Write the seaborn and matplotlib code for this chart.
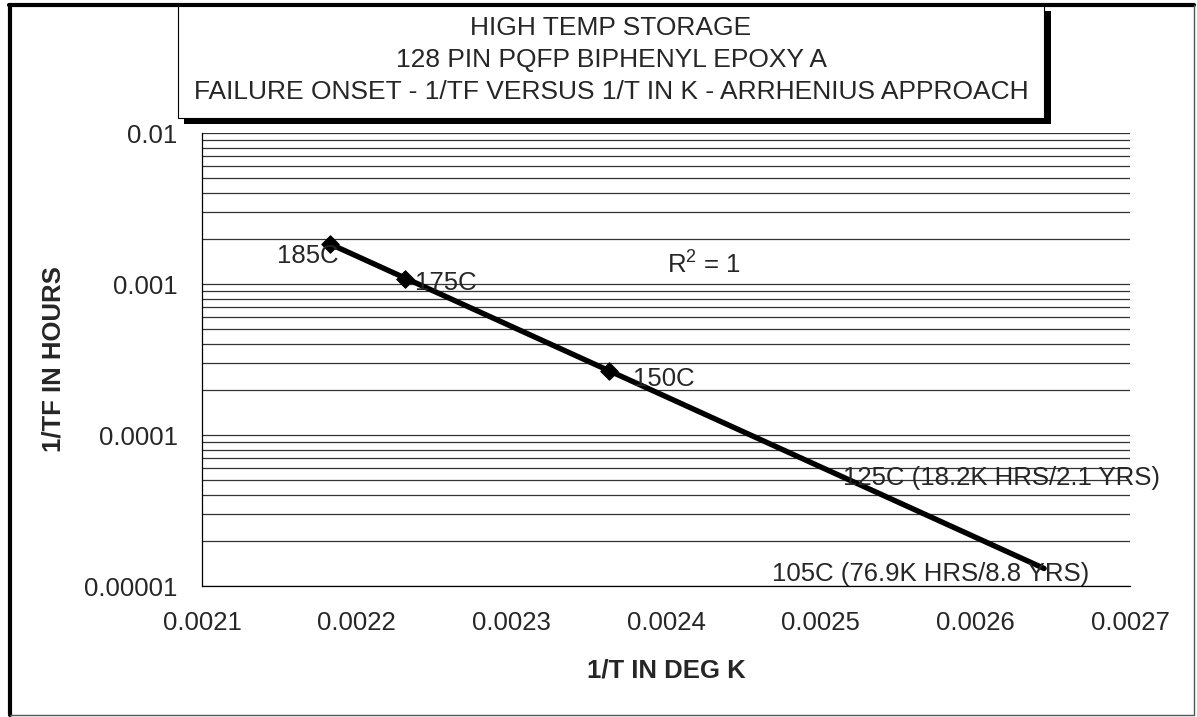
import numpy as np
import pandas as pd
import matplotlib
matplotlib.use('Agg')
import matplotlib.pyplot as plt
from matplotlib.patches import Rectangle
from matplotlib.lines import Line2D
import seaborn as sns

# data
temps_c = [185, 175, 150]
tf_hours = [540, 920, 3750]
label_texts = ['185C', '175C', '150C']
extrap_temps_c = [125, 105]
extrap_labels = ['125C (18.2K HRS/2.1 YRS)', '105C (76.9K HRS/8.8 YRS)']
title_lines = ['HIGH TEMP STORAGE', '128 PIN PQFP BIPHENYL EPOXY A',
               'FAILURE ONSET - 1/TF VERSUS 1/T IN K - ARRHENIUS APPROACH']
x_ticks = [0.0021, 0.0022, 0.0023, 0.0024, 0.0025, 0.0026, 0.0027]
x_ticklabels = ['0.0021', '0.0022', '0.0023', '0.0024', '0.0025', '0.0026', '0.0027']
y_ticks = [0.00001, 0.0001, 0.001, 0.01]
y_ticklabels = ['0.00001', '0.0001', '0.001', '0.01']

W, H = 1197, 717

def fx(px):
    return px / W

def fy(py):
    return 1 - py / H

def pt(px):
    return px * 0.72

sns.set_style('white')
plt.rcParams['font.family'] = ['Liberation Sans', 'DejaVu Sans']
plt.rcParams['mathtext.fontset'] = 'custom'
plt.rcParams['mathtext.rm'] = 'Liberation Sans'
plt.rcParams['mathtext.it'] = 'Liberation Sans'

df = pd.DataFrame({'T': temps_c, 'tf': tf_hours})
df['inv_t'] = 1.0 / (df['T'] + 273.15)
df['inv_tf'] = 1.0 / df['tf']

# exponential (Arrhenius) trendline fitted in log space, extended to 105C
slope, icpt = np.polyfit(df['inv_t'], np.log10(df['inv_tf']), 1)
trend_x = np.array([df['inv_t'].min(), 1.0 / (min(extrap_temps_c) + 273.15)])
trend = pd.DataFrame({'x': trend_x, 'y': 10 ** (slope * trend_x + icpt)})

fig = plt.figure(figsize=(W / 100, H / 100), dpi=100)
ax = fig.add_axes([fx(202), fy(586), fx(1130) - fx(202), fy(133) - fy(586)])

sns.lineplot(data=trend, x='x', y='y', ax=ax, color='black', lw=3.9,
             solid_capstyle='round', zorder=3)
sns.scatterplot(data=df, x='inv_t', y='inv_tf', ax=ax, marker='D', s=80,
                color='black', edgecolor='black', zorder=4)

ax.set_yscale('log')
ax.set_xlim(0.0021, 0.0027)
ax.set_ylim(0.00001, 0.01)
ax.set_xticks(x_ticks)
ax.set_xticklabels(x_ticklabels)
ax.set_yticks(y_ticks)
ax.set_yticklabels(y_ticklabels)
ax.yaxis.set_minor_locator(matplotlib.ticker.LogLocator(base=10, subs=np.arange(2, 10)))
ax.yaxis.set_minor_formatter(matplotlib.ticker.NullFormatter())
ax.tick_params(axis='x', direction='inout', length=11.5, width=0.8, color='black',
               labelsize=18.5, pad=12)
ax.tick_params(axis='y', which='major', direction='out', length=6.5, width=0.8,
               color='black', labelsize=18.5, pad=11)
ax.tick_params(axis='y', which='minor', length=0)
ax.grid(True, axis='y', which='both', color='#333333', lw=0.9)
ax.grid(False, axis='x')
for side in ['top', 'right']:
    ax.spines[side].set_visible(False)
for side in ['left', 'bottom']:
    ax.spines[side].set_color('black')
    ax.spines[side].set_linewidth(0.9)
ax.set_facecolor('white')

ax.set_xlabel('1/T IN DEG K', fontsize=18.5, fontweight='bold', va='center')
ax.xaxis.set_label_coords(0.5, (586 - 671) / 453)
ax.set_ylabel('1/TF IN HOURS', fontsize=18.5, fontweight='bold', va='center')
ax.yaxis.set_label_coords((54 - 202) / 928, 0.5)

# point labels
offsets = [(-22, -12, 'center'), (10, -4, 'left'), (24, -8, 'left')]
for (dx, dy, ha), txt, xv, yv in zip(offsets, label_texts, df['inv_t'], df['inv_tf']):
    ax.annotate(txt, xy=(xv, yv), xytext=(pt(dx), pt(dy)), textcoords='offset points',
                ha=ha, va='center', fontsize=18.5, zorder=5)

extrap_offsets = [(4, -3), (-272, -6)]
for (dx, dy), txt, tc in zip(extrap_offsets, extrap_labels, extrap_temps_c):
    xv = 1.0 / (tc + 273.15)
    yv = 10 ** (slope * xv + icpt)
    ax.annotate(txt, xy=(xv, yv), xytext=(pt(dx), pt(dy)), textcoords='offset points',
                ha='left', va='center', fontsize=18.5, annotation_clip=False, zorder=5)

ax.text((667 - 202) / 928, (586 - 265) / 453, r'R$^2$ = 1', transform=ax.transAxes,
        ha='left', va='center', fontsize=18.5)

# outer chart frame
fig.add_artist(Line2D([fx(10), fx(10)], [fy(5), fy(715)], color='black', lw=3))
fig.add_artist(Line2D([fx(8.5), fx(1194)], [fy(5), fy(5)], color='black', lw=3))
fig.add_artist(Line2D([fx(1194), fx(1194)], [fy(5), fy(715)], color='#555555', lw=1))
fig.add_artist(Line2D([fx(10), fx(1194)], [fy(715), fy(715)], color='#555555', lw=1))

# title box with drop shadow
fig.add_artist(Rectangle((fx(184), fy(124)), fx(1051) - fx(184), fy(11) - fy(124),
                         facecolor='black', edgecolor='none', zorder=6))
fig.add_artist(Rectangle((fx(178), fy(118)), fx(1044) - fx(178), fy(6) - fy(118),
                         facecolor='white', edgecolor='black', lw=0.8, zorder=7))
for line, ypx in zip(title_lines, [28, 60, 92]):
    fig.text(fx(611), fy(ypx), line, ha='center', va='center', fontsize=19, zorder=8)

fig.savefig('out.png', dpi=100)
